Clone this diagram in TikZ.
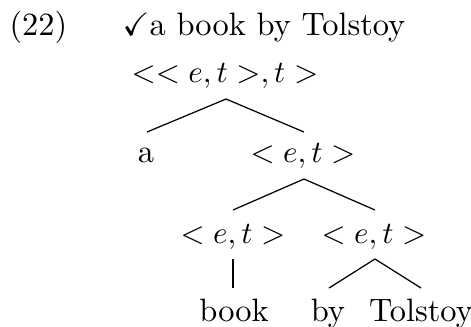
\documentclass[tikz,border=0pt]{standalone}
\usepackage{amssymb}
\begin{document}
\begin{tikzpicture}[x=0.3226pt,y=-0.3226pt,
  lab/.style={anchor=base,inner sep=0pt,font=\fontsize{10}{12}\selectfont},
  txt/.style={anchor=base,inner sep=0pt,font=\fontsize{10.45}{12}\selectfont},
  edge/.style={line width=0.4pt}]
\useasboundingbox (0,0) rectangle (471,326);
% heading
\node[txt,anchor=base west] (num) at (9,35) {(22)};
\node[txt,anchor=base west] (title) at (122,35) {$\checkmark$a book by Tolstoy};
% tree labels
\node[lab] (root) at (225,82) {$<< e,t >,t >$};
\node[txt] (a) at (146,162) {a};
\node[lab] (mid) at (303,162) {$< e,t >$};
\node[lab] (l) at (233,243) {$< e,t >$};
\node[lab] (r) at (374,243) {$< e,t >$};
\node[txt] (book) at (234,321) {book};
\node[txt] (by) at (328,321) {by};
\node[txt] (tol) at (421,321) {Tolstoy};
% branch points
\coordinate (rootB) at (226,99);
\coordinate (aT) at (147,132);
\coordinate (midT) at (304,132);
\coordinate (midB) at (304,179);
\coordinate (lT) at (233,210);
\coordinate (rT) at (375,210);
\coordinate (lB) at (233,259);
\coordinate (bookT) at (233,288);
\coordinate (rB) at (375,259);
\coordinate (byT) at (329,288);
\coordinate (tolT) at (421,288);
\draw[edge] (aT) -- (rootB) -- (midT);
\draw[edge] (lT) -- (midB) -- (rT);
\draw[edge] (lB) -- (bookT);
\draw[edge] (byT) -- (rB) -- (tolT);
\end{tikzpicture}
\end{document}
